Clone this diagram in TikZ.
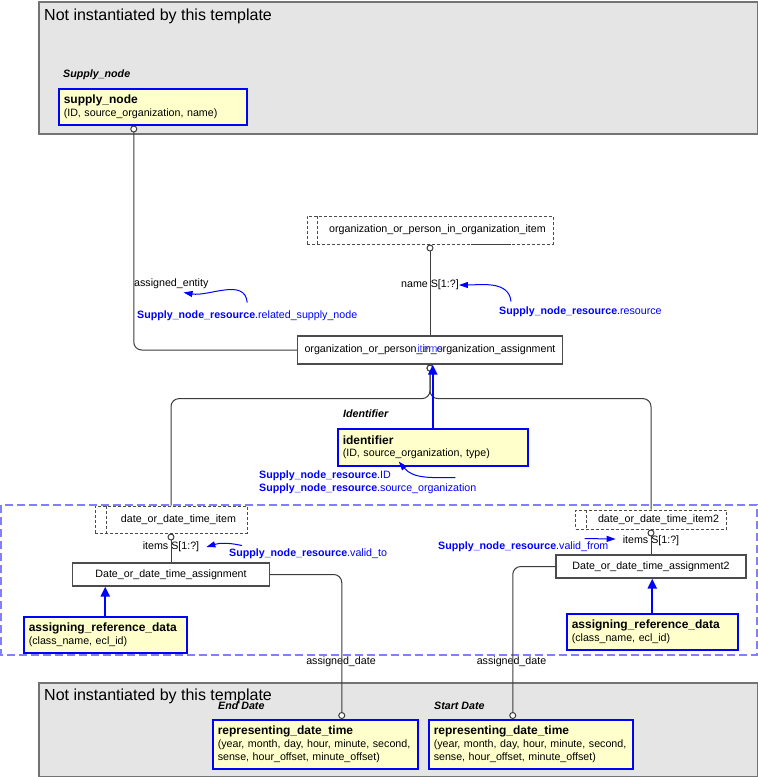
\documentclass[tikz,border=0pt]{standalone}
\usepackage{fontspec}
\setmainfont{Liberation Sans}
\usetikzlibrary{arrows.meta,positioning}

\definecolor{entfill}{RGB}{255,255,204}
\definecolor{greyfill}{RGB}{229,229,229}
\definecolor{groupblue}{RGB}{128,128,255}
\definecolor{linegrey}{RGB}{60,60,60}

\newcommand{\fnorm}{\fontsize{10.67}{12.8}\selectfont}
\newcommand{\fbig}{\fontsize{16}{19}\selectfont}
\newcommand{\fname}{\fontsize{12}{12.8}\selectfont\bfseries}
\newcommand{\fitalic}{\fontsize{10.67}{12.8}\selectfont\bfseries\itshape}

\tikzset{
  txt/.style={inner sep=0pt, text height=8pt, text depth=2.5pt, font=\fnorm},
  notetxt/.style={txt, text=blue},
  frametitle/.style={inner sep=0pt, text height=12pt, text depth=3.5pt, font=\fbig, anchor=west},
  greyframe/.style={draw=black!55, line width=1.5pt, fill=greyfill, anchor=north west, inner sep=0pt},
  groupframe/.style={draw=groupblue, line width=1.5pt, dash pattern=on 8pt off 4pt},
  entity/.style={draw=blue, line width=1.5pt, fill=entfill, anchor=north west, inner xsep=5pt, inner ysep=0pt, align=left, font=\fnorm, text width=#1},
  selbox/.style={draw=black!70, line width=1pt, dash pattern=on 3pt off 2pt, font=\fnorm, inner sep=2pt, text height=8pt, text depth=2.5pt},
  selline/.style={draw=black!70, line width=1pt, dash pattern=on 3pt off 2pt},
  classbox/.style={draw=black!70, line width=1.2pt, fill=white, font=\fnorm, inner sep=2pt, text height=8pt, text depth=2.5pt},
  conn/.style={draw=linegrey, line width=1pt, rounded corners=8pt},
  startring/.style={{Circle[fill=white,length=7pt,width=7pt]}-},
  endring/.style={-{Circle[fill=white,length=7pt,width=7pt]}},
  isa/.style={draw=blue, line width=2pt, -{Triangle[length=10pt,width=9pt]}},
  notearrow/.style={draw=blue, line width=1pt, -{Triangle[length=9pt,width=6pt]}}
}

\begin{document}
\begin{tikzpicture}[x=1pt,y=-1pt]
  \useasboundingbox (0,0) rectangle (758,777);

  % Frames
  \node[greyframe, minimum width=719pt, minimum height=132pt] (topframe) at (38,1) {};
  \node[frametitle] (toptitle) at (44,16) {Not instantiated by this template};
  \node[greyframe, minimum width=719pt, minimum height=94pt] (botframe) at (38,682) {};
  \node[frametitle] (bottitle) at (44,696) {Not instantiated by this template};
  \draw[groupframe] (1,505) rectangle (757,655);

  % Supply node
  \node[txt, font=\fitalic, anchor=west] (supplylbl) at (63,75) {Supply\_node};
  \node[entity=178pt, minimum height=36pt] (supply) at (58,88) {{\fname supply\_node}\\(ID, source\_organization, name)};

  % Organization assignment
  \node[selbox, minimum width=246pt, minimum height=28pt] (orgitem) at (430,230) {\hspace*{15pt}organization\_or\_person\_in\_organization\_item};
  \draw[selline] ([xshift=11pt]orgitem.north west) -- ([xshift=11pt]orgitem.south west);
  \draw[line width=1.5pt, black!75] ([xshift=41pt]orgitem.south) -- ([xshift=81pt]orgitem.south);
  \node[classbox, minimum width=265pt, minimum height=28pt] (orgassign) at (430,350) {organization\_or\_person\_in\_organization\_assignment};
  \node[txt, text=blue!75] (orgitems) at (orgassign.center) {items};

  \node[txt] (namelbl) at (430,285) {name S[1:?]};
  \node[txt, anchor=west] (aent) at (134,284) {assigned\_entity};
  \node[notetxt, anchor=west] (relsup) at (137,316) {\textbf{Supply\_node\_resource}.related\_supply\_node};
  \node[notetxt, anchor=west] (reslbl) at (499,312) {\textbf{Supply\_node\_resource}.resource};

  % Identifier
  \node[txt, font=\fitalic, anchor=west] (identlbl) at (343,415) {Identifier};
  \node[entity=180pt, minimum height=37pt] (identifier) at (337,428) {{\fname identifier}\\(ID, source\_organization, type)};
  \node[notetxt, anchor=west] (idnote1) at (259,476) {\textbf{Supply\_node\_resource}.ID};
  \node[notetxt, anchor=west] (idnote2) at (259,489) {\textbf{Supply\_node\_resource}.source\_organization};

  % End date side
  \node[selbox, minimum width=152pt, minimum height=27pt] (dtitem) at (171,519.5) {\hspace*{15pt}date\_or\_date\_time\_item};
  \draw[selline] ([xshift=12pt]dtitem.north west) -- ([xshift=12pt]dtitem.south west);
  \node[txt] (items1) at (171,547) {items S[1:?]};
  \node[notetxt, anchor=west] (validto) at (229,554) {\textbf{Supply\_node\_resource}.valid\_to};
  \node[classbox, minimum width=197pt, minimum height=23pt] (dtassign) at (171,574.5) {Date\_or\_date\_time\_assignment};
  \node[entity=153pt, minimum height=36pt] (assign1) at (23,616) {{\fname assigning\_reference\_data}\\(class\_name, ecl\_id)};
  \node[txt] (adate1) at (341,662) {assigned\_date};

  % Start date side
  \node[selbox, minimum width=151pt, minimum height=19pt] (dtitem2) at (651,519.5) {\hspace*{15pt}date\_or\_date\_time\_item2};
  \draw[selline] ([xshift=11pt]dtitem2.north west) -- ([xshift=11pt]dtitem2.south west);
  \node[txt] (items2) at (651,541) {items S[1:?]};
  \node[notetxt, anchor=west] (validfrom) at (438,547) {\textbf{Supply\_node\_resource}.valid\_from};
  \node[classbox, minimum width=190pt, minimum height=23pt] (dtassign2) at (651,566.5) {Date\_or\_date\_time\_assignment2};
  \node[entity=161pt, minimum height=36pt] (assign2) at (566,613) {{\fname assigning\_reference\_data}\\(class\_name, ecl\_id)};
  \node[txt] (adate2) at (511.5,662) {assigned\_date};

  % Dates
  \node[txt, font=\fitalic, anchor=west] (endlbl) at (218,707) {End Date};
  \node[entity=195pt, minimum height=49pt] (repend) at (212,719) {{\fname representing\_date\_time}\\(year, month, day, hour, minute, second,\\sense, hour\_offset, minute\_offset)};
  \node[txt, font=\fitalic, anchor=west] (startlbl) at (434,707) {Start Date};
  \node[entity=194pt, minimum height=49pt] (repstart) at (428,719) {{\fname representing\_date\_time}\\(year, month, day, hour, minute, second,\\sense, hour\_offset, minute\_offset)};

  % Connectors
  \draw[conn, startring] ([xshift=-19pt]supply.south) |- (orgassign.west);
  \draw[conn, startring] (orgitem.south) -- (orgassign.north);
  \coordinate (split) at ([yshift=-34pt]orgassign.south);
  \draw[conn, startring] (orgassign.south) -- (split) -| (dtitem.north);
  \draw[conn, startring] (orgassign.south) -- (split) -| (dtitem2.north);
  \draw[conn, startring] (dtitem.south) -- (dtassign.north);
  \draw[conn, startring] (dtitem2.south) -- (dtassign2.north);
  \draw[conn, endring] (dtassign.east) -| ([xshift=26.5pt]repend.north);
  \draw[conn, endring] (dtassign2.west) -| ([xshift=-18pt]repstart.north);

  % Subtypes
  \draw[isa] (identifier.north) -- (identifier.north |- orgassign.south);
  \draw[isa] (assign1.north) -- (assign1.north |- dtassign.south);
  \draw[isa] (assign2.north) -- (assign2.north |- dtassign2.south);

  % Annotation arrows
  \draw[notearrow] ([yshift=8pt]relsup.north) to[out=95,in=-10] ([xshift=-25pt,yshift=-3pt]aent.south east);
  \draw[notearrow] ([xshift=12pt,yshift=5pt]reslbl.north west) to[out=95,in=0] (namelbl.east);
  \draw[notearrow] ([xshift=-21pt,yshift=6pt]idnote2.north east) to[out=180,in=-50] ([xshift=-34pt,yshift=5pt]identifier.south);
  \draw[notearrow] ([xshift=13pt,yshift=3pt]validto.north west) to[bend right=15] ([xshift=7pt]items1.east);
  \draw[notearrow] ([xshift=-24pt,yshift=3pt]validfrom.north east) -- ([xshift=-7pt,yshift=2pt]items2.west);
\end{tikzpicture}
\end{document}
